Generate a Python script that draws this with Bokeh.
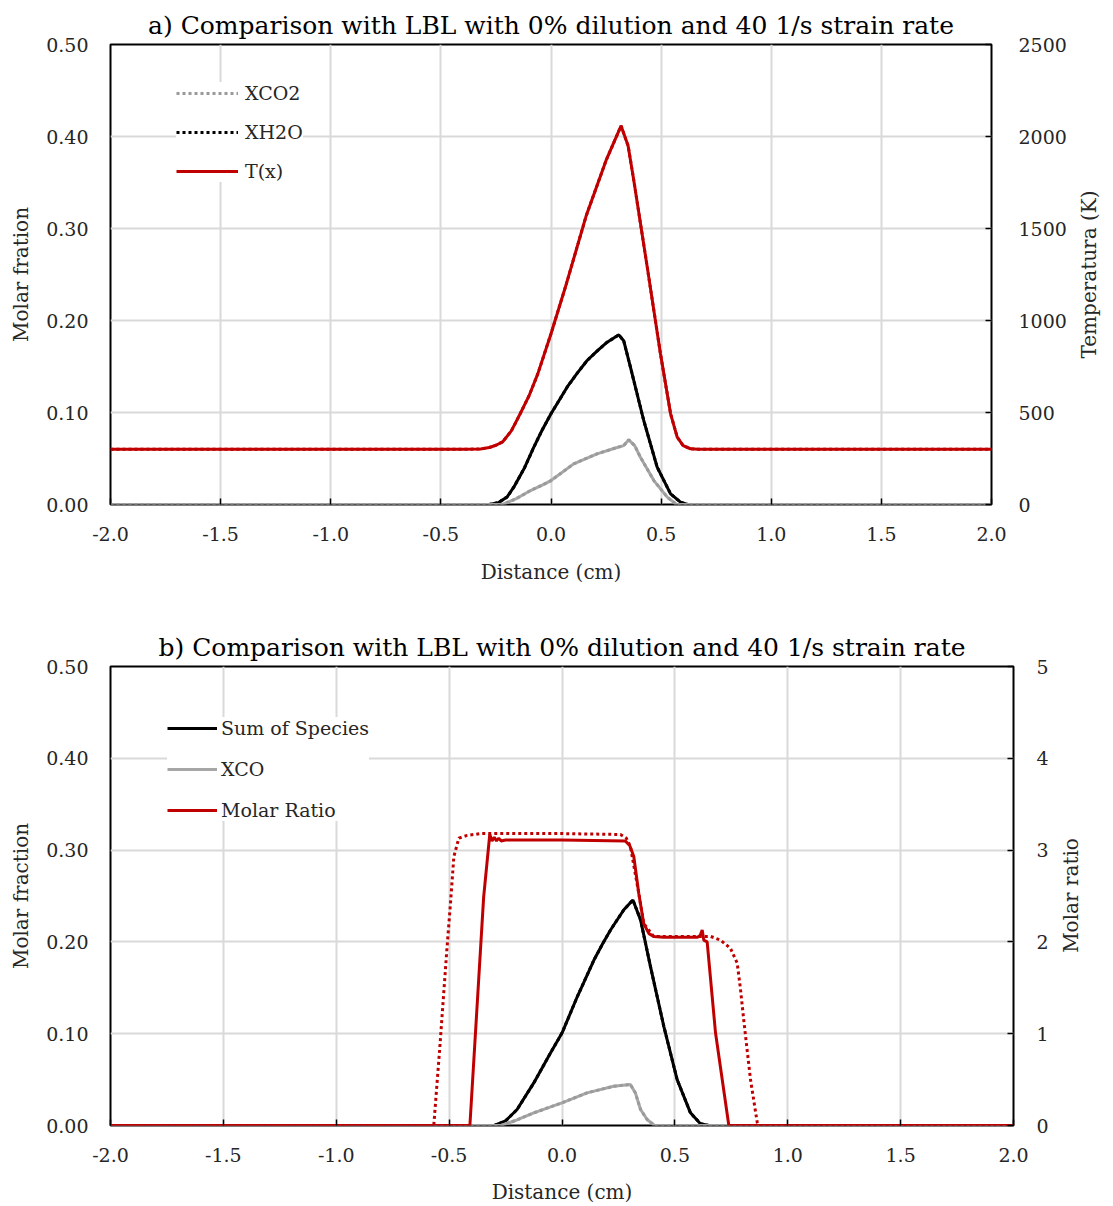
import math
from bokeh.plotting import figure
from bokeh.models import (Range1d, LinearAxis, FixedTicker, NumeralTickFormatter, Legend,
                          LegendItem, Label)
from bokeh.embed import file_html
from bokeh.resources import INLINE

# ---------------- data ----------------
x_ticks = [-2.0, -1.5, -1.0, -0.5, 0.0, 0.5, 1.0, 1.5, 2.0]
y_ticks = [0.0, 0.1, 0.2, 0.3, 0.4, 0.5]
temp_ticks = [0, 500, 1000, 1500, 2000, 2500]
ratio_ticks = [0, 1, 2, 3, 4, 5]

# panel a: temperature (K)
t_x = [-2.0, -0.40, -0.32, -0.28, -0.25, -0.22, -0.18, -0.14, -0.10, -0.06, 0.0, 0.07,
       0.16, 0.25, 0.318, 0.35, 0.376, 0.437, 0.497, 0.543, 0.573, 0.60, 0.633, 0.67, 2.0]
t_val = [300, 300, 302, 310, 322, 340, 400, 493, 590, 710, 928, 1200,
         1570, 1870, 2058, 1950, 1761, 1290, 819, 493, 366, 320, 303, 300, 300]

# panel a: XH2O
h2o_x = [-2.0, -0.28, -0.24, -0.20, -0.169, -0.12, -0.078, -0.04, 0.0, 0.073, 0.12, 0.164,
         0.21, 0.255, 0.308, 0.33, 0.361, 0.421, 0.482, 0.543, 0.588, 0.62, 2.0]
h2o_val = [0, 0, 0.002, 0.008, 0.0188, 0.040, 0.0623, 0.081, 0.0986, 0.1275, 0.143, 0.1565,
           0.167, 0.1764, 0.1844, 0.178, 0.149, 0.0913, 0.0406, 0.0116, 0.0025, 0, 0]

# panel a: XCO2
co2_x = [-2.0, -0.22, -0.16, -0.093, -0.04, 0.0, 0.103, 0.209, 0.30, 0.33, 0.353,
         0.38, 0.406, 0.467, 0.528, 0.57, 2.0]
co2_val = [0, 0, 0.006, 0.0152, 0.021, 0.026, 0.0442, 0.0551, 0.062, 0.064, 0.0703,
           0.064, 0.0514, 0.026, 0.008, 0, 0]

# panel b: sum of species
sum_x = [-2.0, -0.30, -0.25, -0.199, -0.125, -0.051, 0.0, 0.068, 0.141, 0.18, 0.215, 0.274,
         0.314, 0.348, 0.392, 0.451, 0.510, 0.569, 0.613, 0.65, 2.0]
sum_val = [0, 0, 0.005, 0.0174, 0.0464, 0.079, 0.1007, 0.1405, 0.180, 0.198, 0.213, 0.235,
           0.2457, 0.224, 0.173, 0.108, 0.05, 0.0138, 0.002, 0, 0]

# panel b: XCO
co_x = [-2.0, -0.27, -0.20, -0.125, 0.0, 0.111, 0.229, 0.303, 0.325, 0.348, 0.377, 0.41, 2.0]
co_val = [0, 0, 0.006, 0.0138, 0.0247, 0.0355, 0.0428, 0.0446, 0.0355, 0.0174, 0.0065, 0, 0]

# panel b: molar ratio (model, solid)
ratio_x = [-2.0, -0.408, -0.347, -0.32, -0.31, -0.30, -0.29, -0.28, -0.27, -0.25, 0.0,
           0.28, 0.30, 0.318, 0.34, 0.362, 0.385, 0.406, 0.45, 0.60, 0.612, 0.621, 0.628,
           0.643, 0.68, 0.739, 2.0]
ratio_val = [0, 0, 2.49, 3.17, 3.10, 3.14, 3.10, 3.13, 3.10, 3.11, 3.11,
             3.10, 3.05, 2.93, 2.53, 2.20, 2.09, 2.06, 2.05, 2.05, 2.07, 2.13, 2.02,
             2.00, 1.01, 0, 0]

# panel b: molar ratio (LBL, dotted)
lbl_x = [-2.0, -0.568, -0.541, -0.524, -0.509, -0.494, -0.479, -0.457, -0.42, -0.361, 0.0,
         0.259, 0.285, 0.303, 0.34, 0.362, 0.406, 0.60, 0.658, 0.702, 0.746, 0.776, 0.79,
         0.805, 0.835, 0.865, 0.87, 2.0]
lbl_val = [0, 0, 0.86, 1.44, 1.95, 2.42, 2.93, 3.13, 3.16, 3.18, 3.18,
           3.17, 3.13, 3.04, 2.53, 2.20, 2.06, 2.06, 2.06, 2.02, 1.93, 1.77, 1.5,
           1.15, 0.5, 0.03, 0, 0]

# ---------------- style ----------------
FONT = "DejaVu Serif"
RED = "#C00000"
GRAY = "#A6A6A6"
BLACK = "#000000"
TXT = "#262626"
GRID = "#D9D9D9"
LW = 3
DOT = "3 3"


def style_axis(ax, standoff, label_standoff, tick_in=0):
    ax.axis_line_color = None
    ax.major_tick_in = tick_in
    ax.major_tick_out = 0
    ax.major_tick_line_color = "black"
    ax.major_tick_line_width = 1.5
    ax.minor_tick_line_color = None
    ax.major_label_text_font = FONT
    ax.major_label_text_font_size = "19px"
    ax.major_label_text_color = TXT
    ax.axis_label_text_font = FONT
    ax.axis_label_text_font_size = "20px"
    ax.axis_label_text_font_style = "normal"
    ax.axis_label_text_color = TXT
    ax.major_label_standoff = standoff
    ax.axis_label_standoff = label_standoff


def make_panel(title, height, mb_top, mb_bottom, mb_right, y2_end, y2_ticks, y2_fmt,
               y2_label, r_standoff, label_x, x_standoff, x_label_standoff):
    p = figure(width=1113, height=height, x_range=Range1d(-2, 2), y_range=Range1d(0, 0.5),
               output_backend="svg", toolbar_location=None,
               min_border_left=110, min_border_right=mb_right,
               min_border_top=mb_top, min_border_bottom=mb_bottom)
    p.title.text = title
    p.title.text_font = FONT
    p.title.text_font_size = "25px"
    p.title.text_font_style = "normal"
    p.title.text_color = BLACK
    p.title.align = "center"
    p.outline_line_color = "black"
    p.outline_line_width = 2
    p.background_fill_color = "white"
    p.border_fill_color = "white"

    p.xaxis.ticker = FixedTicker(ticks=x_ticks)
    p.xaxis.formatter = NumeralTickFormatter(format="0.0")
    p.xaxis.axis_label = "Distance (cm)"
    style_axis(p.xaxis[0], x_standoff, x_label_standoff, tick_in=6)

    p.yaxis.ticker = FixedTicker(ticks=y_ticks)
    p.yaxis.formatter = NumeralTickFormatter(format="0.00")
    style_axis(p.yaxis[0], 22, 10)

    p.xgrid.ticker = FixedTicker(ticks=x_ticks)
    p.ygrid.ticker = FixedTicker(ticks=y_ticks)
    p.xgrid.grid_line_color = GRID
    p.ygrid.grid_line_color = GRID
    p.xgrid.grid_line_width = 2
    p.ygrid.grid_line_width = 2

    p.extra_y_ranges = {"y2": Range1d(0, y2_end)}
    ax2 = LinearAxis(y_range_name="y2", ticker=FixedTicker(ticks=y2_ticks),
                     formatter=NumeralTickFormatter(format=y2_fmt))
    style_axis(ax2, r_standoff, 0, tick_in=6)
    p.add_layout(ax2, "right")

    frame_h = height - mb_top - mb_bottom
    # right-hand axis title, reading bottom to top like the left one
    p.add_layout(Label(x=label_x, y=frame_h / 2, x_units="screen", y_units="screen",
                       text=y2_label, angle=math.pi / 2,
                       text_align="center", text_baseline="middle",
                       text_font=FONT, text_font_size="20px", text_color=TXT), "right")
    return p


# ---------------- panel a ----------------
pa = make_panel("a) Comparison with LBL with 0% dilution and 40 1/s strain rate",
                600, 44, 96, 122, 2500, temp_ticks, "0", "Temperatura (K)", 27, 19, 22, 16)
pa.yaxis[0].axis_label = "Molar fration"

r_h2o = pa.line(h2o_x, h2o_val, line_color=BLACK, line_width=LW, line_dash=DOT)
pa.line(h2o_x, h2o_val, line_color=BLACK, line_width=LW)
pa.line(co2_x, co2_val, line_color=GRAY, line_width=LW)
r_co2 = pa.line(co2_x, co2_val, line_color="#9A9A9A", line_width=LW, line_dash=DOT)
r_t = pa.line(t_x, t_val, line_color=RED, line_width=LW, y_range_name="y2")
pa.line(t_x, t_val, line_color=RED, line_width=LW, line_dash=DOT, y_range_name="y2")

leg_a = Legend(items=[LegendItem(label="XCO2", renderers=[r_co2]),
                      LegendItem(label="XH2O", renderers=[r_h2o]),
                      LegendItem(label="T(x)", renderers=[r_t])],
               location=(66, 322))
pa.add_layout(leg_a)

# ---------------- panel b ----------------
pb = make_panel("b) Comparison with LBL with 0% dilution and 40 1/s strain rate",
                606, 66, 80, 100, 5, ratio_ticks, "0", "Molar ratio", 23, 19, 22, 15)
pb.yaxis[0].axis_label = "Molar fraction"

pb.line(sum_x, sum_val, line_color=BLACK, line_width=LW, line_dash=DOT)
r_sum = pb.line(sum_x, sum_val, line_color=BLACK, line_width=LW)
r_co = pb.line(co_x, co_val, line_color=GRAY, line_width=LW)
pb.line(co_x, co_val, line_color="#9A9A9A", line_width=LW, line_dash=DOT)
pb.line(lbl_x, lbl_val, line_color=RED, line_width=LW, line_dash=DOT, y_range_name="y2")
r_ratio = pb.line(ratio_x, ratio_val, line_color=RED, line_width=LW, y_range_name="y2")

leg_b = Legend(items=[LegendItem(label="Sum of Species", renderers=[r_sum]),
                      LegendItem(label="XCO", renderers=[r_co]),
                      LegendItem(label="Molar Ratio", renderers=[r_ratio])],
               location=(57, 304))
pb.add_layout(leg_b)

for p, gw, sp, so in ((pa, 62, 17, 7), (pb, 50, 19, 4)):
    lg = p.legend[0]
    lg.background_fill_color = "white"
    lg.background_fill_alpha = 1.0
    lg.border_line_color = None
    lg.label_text_font = FONT
    lg.label_text_font_size = "19px"
    lg.label_text_color = TXT
    lg.glyph_width = gw
    lg.glyph_height = 20
    lg.label_height = 20
    lg.spacing = sp
    lg.label_standoff = so
    lg.padding = 8
    lg.margin = 0

with open("out.html", "w") as f:
    f.write(file_html([pa, pb], INLINE))
